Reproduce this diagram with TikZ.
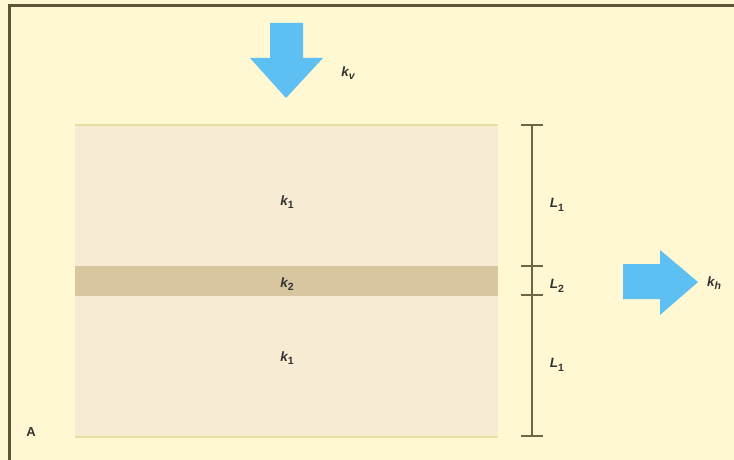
\documentclass[tikz,border=0pt]{standalone}
\usepackage{fontspec}
\setmainfont{Liberation Sans}
\usetikzlibrary{calc}
\newcommand{\lowsub}[1]{\raisebox{-3.5pt}{\fontsize{10.5}{12}\selectfont #1}}
\newcommand{\lowdig}[1]{\raisebox{-3.5pt}{\fontsize{10.5}{12}\selectfont\upshape #1}}
\begin{document}
\begin{tikzpicture}[x=1pt,y=-1pt,
  lbl/.style={font=\itshape\bfseries\fontsize{13.5}{15}\selectfont, text=black!80, inner sep=1pt},
  dimln/.style={draw=dimc, line width=1.2pt},
  flow/.style={fill=arrowc, draw=none}]
\definecolor{bgc}{HTML}{FFF8D2}
\definecolor{layerA}{HTML}{F8EBD3}
\definecolor{layerB}{HTML}{D8C6A0}
\definecolor{edgec}{HTML}{E6DFA0}
\definecolor{dimc}{HTML}{6E6446}
\definecolor{arrowc}{HTML}{5EBFF2}
\definecolor{framec}{HTML}{5E5638}
\useasboundingbox (0,0) rectangle (734,460);
\fill[bgc] (0,0) rectangle (734,460);
% frame (top and left only)
\draw[framec, line width=2.2pt] (9.5,460) -- (9.5,5.5) -- (734,5.5);
% layers
\fill[layerA] (75,125) rectangle (498,266);
\fill[layerB] (75,266) rectangle (498,296);
\fill[layerA] (75,296) rectangle (498,437);
\draw[edgec, line width=1.5pt] (75,125) -- (498,125);
\draw[edgec, line width=1.5pt] (75,437) -- (498,437);
% dimension line
\coordinate (d0) at (532,125);
\coordinate (d1) at (532,266);
\coordinate (d2) at (532,295);
\coordinate (d3) at (532,436);
\draw[dimln] (d0) -- (d3);
\draw[dimln] ($(d0)+(-11,0)$) -- ($(d0)+(11,0)$);
\draw[dimln] ($(d1)+(-11,0)$) -- ($(d1)+(11,0)$);
\draw[dimln] ($(d2)+(-11,0)$) -- ($(d2)+(11,0)$);
\draw[dimln] ($(d3)+(-11,0)$) -- ($(d3)+(11,0)$);
% arrows
\fill[flow] (270,23) -- (303,23) -- (303,58) -- (323,58) -- (286,98) -- (250,58) -- (270,58) -- cycle;
\fill[flow] (623,264) -- (660,264) -- (660,250) -- (698,282) -- (660,315) -- (660,299) -- (623,299) -- cycle;
% labels
\node[lbl] (kv) at (348,73) {k\lowsub{v}};
\node[lbl] (kh) at (714,283) {k\lowsub{h}};
\node[lbl] (k1a) at (287,202) {k\lowdig{1}};
\node[lbl] (k2) at (287,284) {k\lowdig{2}};
\node[lbl] (k1b) at (287,358) {k\lowdig{1}};
\node[lbl] (L1a) at (557,205) {L\lowdig{1}};
\node[lbl] (L2) at (557,286) {L\lowdig{2}};
\node[lbl] (L1b) at (557,365) {L\lowdig{1}};
\node[font=\bfseries\fontsize{13}{15}\selectfont, text=black!80] (A) at (31,432) {A};
\end{tikzpicture}
\end{document}
